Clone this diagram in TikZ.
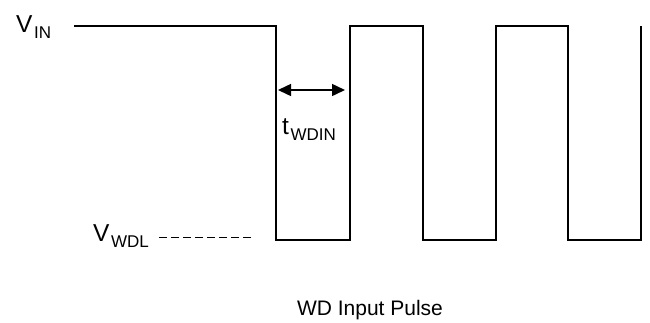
\documentclass[tikz,border=0pt]{standalone}
\usepackage{fontspec}
\setmainfont{Liberation Sans}
\usetikzlibrary{arrows.meta}
\newcommand\mysubtxt[1]{{\kern1.5pt\fontsize{17}{18}\selectfont\raisebox{-6pt}{#1}}}
\begin{document}
\begin{tikzpicture}[x=1pt,y=-1pt,
  wave/.style={line width=1.5pt, line join=miter},
  lbl/.style={inner sep=0pt, anchor=base west, font=\fontsize{24.5}{26}\selectfont},
  caption/.style={inner sep=0pt, anchor=base, font=\fontsize{21}{24}\selectfont},
  dimarrow/.style={line width=1.5pt, {Triangle[length=13pt,width=12pt]}-{Triangle[length=13pt,width=12pt]}},
  levelline/.style={line width=1pt, dash pattern=on 7.5pt off 4.5pt}]
\useasboundingbox (0,0) rectangle (650,322);
% waveform
\draw[wave] (74,26) -- (276,26) -- (276,240) -- (350,240) -- (350,26) -- (423,26)
  -- (423,240) -- (496,240) -- (496,26) -- (568,26) -- (568,240) -- (641,240) -- (641,26);
% labels
\node[lbl] (vin) at (16,32) {V\mysubtxt{IN}};
\node[lbl] (vwdl) at (93,241) {V\mysubtxt{WDL}};
\node[lbl] (twdin) at (282,134) {t\mysubtxt{WDIN}};
\node[caption] (cap) at (370,315) {WD Input Pulse};
% dashed level
\coordinate (d1) at (159,237);
\coordinate (d2) at (253,237);
\draw[levelline] (d1) -- (d2);
% dimension arrow
\coordinate (a1) at (278,90);
\coordinate (a2) at (345,90);
\draw[dimarrow] (a1) -- (a2);
\end{tikzpicture}
\end{document}
